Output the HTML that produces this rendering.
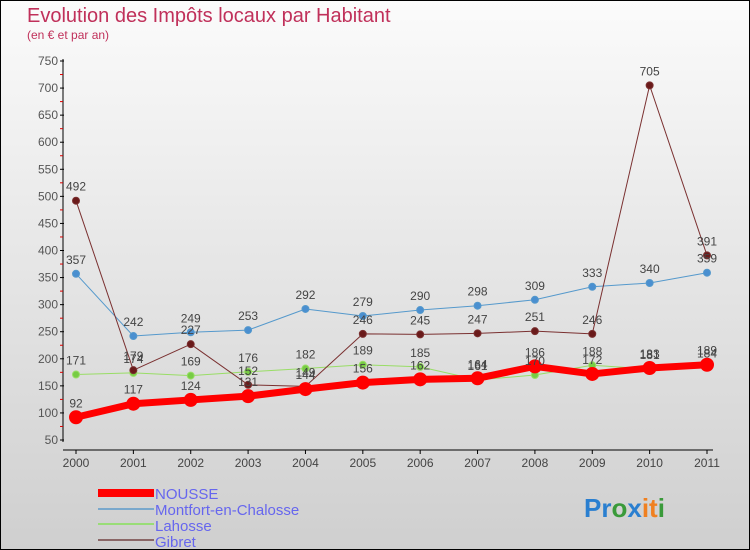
<!DOCTYPE html>
<html><head><meta charset="utf-8"><style>
html,body{margin:0;padding:0}
body{width:750px;height:550px;overflow:hidden;font-family:"Liberation Sans",sans-serif}
#wrap{position:relative;width:748px;height:548px;border:1px solid #000;background:linear-gradient(#fbfbfb,#cfcfcf)}
</style></head><body>
<div id="wrap">
<svg id="chart" width="748" height="548" style="position:absolute;left:0;top:0">
<text x="26" y="21" font-size="20" fill="#c0305a">Evolution des Impôts locaux par Habitant</text>
<text x="26" y="38" font-size="12" fill="#c0305a">(en € et par an)</text>
<g id="axes"></g><g id="series"></g><g id="labels"></g>
<g>
<rect x="97" y="488" width="56" height="8" fill="#f00"/>
<text x="154" y="498" font-size="15" fill="#6666ee">NOUSSE</text>
<rect x="97" y="507" width="56" height="2" fill="#7aa8cc"/>
<text x="154" y="514" font-size="15" fill="#6666ee">Montfort-en-Chalosse</text>
<rect x="97" y="522" width="56" height="2" fill="#99dd77"/>
<text x="154" y="530" font-size="15" fill="#6666ee">Lahosse</text>
<rect x="97" y="538" width="56" height="2" fill="#8a6666"/>
<text x="154" y="546" font-size="15" fill="#6666ee">Gibret</text>
</g>
<text x="583" y="516" font-size="26" font-weight="bold"><tspan fill="#2a7fd0">Pr</tspan><tspan fill="#3a9a3a">o</tspan><tspan fill="#2a7fd0">x</tspan><tspan fill="#f08020">it</tspan><tspan fill="#3a9a3a">i</tspan></text>
</svg>
</div>
<script>
const years=[2000,2001,2002,2003,2004,2005,2006,2007,2008,2009,2010,2011];
const nousse=[92,117,124,131,144,156,162,164,186,172,183,189];
const montfort=[357,242,249,253,292,279,290,298,309,333,340,359];
const lahosse=[171,174,169,176,182,189,185,161,170,188,181,184];
const gibret=[492,179,227,152,149,246,245,247,251,246,705,391];
const yTicks=[50,100,150,200,250,300,350,400,450,500,550,600,650,700,750];
const NS="http://www.w3.org/2000/svg";
const x=i=>75+i*(706-75)/11;
const y=v=>439-(v-50)*(439-60)/700;
function mk(t,a,p){const e=document.createElementNS(NS,t);for(const k in a)e.setAttribute(k,a[k]);p.appendChild(e);return e;}
const ax=document.getElementById('axes');
const yl=mk('line',{x1:62,y1:58,x2:62,y2:441,stroke:'#000'},ax);


yTicks.forEach((v,i)=>{
 mk('line',{x1:59,y1:y(v),x2:63,y2:y(v),stroke:'#000'},ax);
 if(i<yTicks.length-1)mk('line',{x1:59,y1:y(v+25),x2:62,y2:y(v+25),stroke:'#d00'},ax);
 const t=mk('text',{x:57,y:y(v)+4,'font-size':12,fill:'#555','text-anchor':'end'},ax);t.textContent=v;
 
 
});
const xl=mk('line',{x1:62,y1:449,x2:712,y2:449,stroke:'#000'},ax);


years.forEach((yr,i)=>{
 mk('line',{x1:x(i),y1:449,x2:x(i),y2:453,stroke:'#000'},ax);
 const t=mk('text',{x:x(i),y:466,'font-size':12,fill:'#444','text-anchor':'middle'},ax);t.textContent=yr;
 
 
});
const sg=document.getElementById('series'),lg=document.getElementById('labels');
function draw(data,name,col,dot,w,r){
 const g=mk('g',{},sg);
 
 
 mk('polyline',{points:data.map((v,i)=>x(i)+','+y(v)).join(' '),fill:'none',stroke:col,'stroke-width':w,'stroke-linejoin':'round'},g);
 data.forEach((v,i)=>{
  const c=mk('circle',{cx:x(i),cy:y(v),r:r,fill:dot,stroke:col,'stroke-width':1},g);
  
  
  const t=mk('text',{x:x(i),y:y(v)-10,'font-size':12,fill:'#444','text-anchor':'middle'},lg);t.textContent=v;
  
  
 });
}
draw(montfort,'montfort','#5599cc','#4a8fd0',1,3.5);
draw(lahosse,'lahosse','#99dd66','#77cc44',1,3.5);
draw(gibret,'gibret','#7a3030','#6a1a1a',1,3.5);
draw(nousse,'nousse','#f00','#f00',7,6.5);
</script>
</body></html>
